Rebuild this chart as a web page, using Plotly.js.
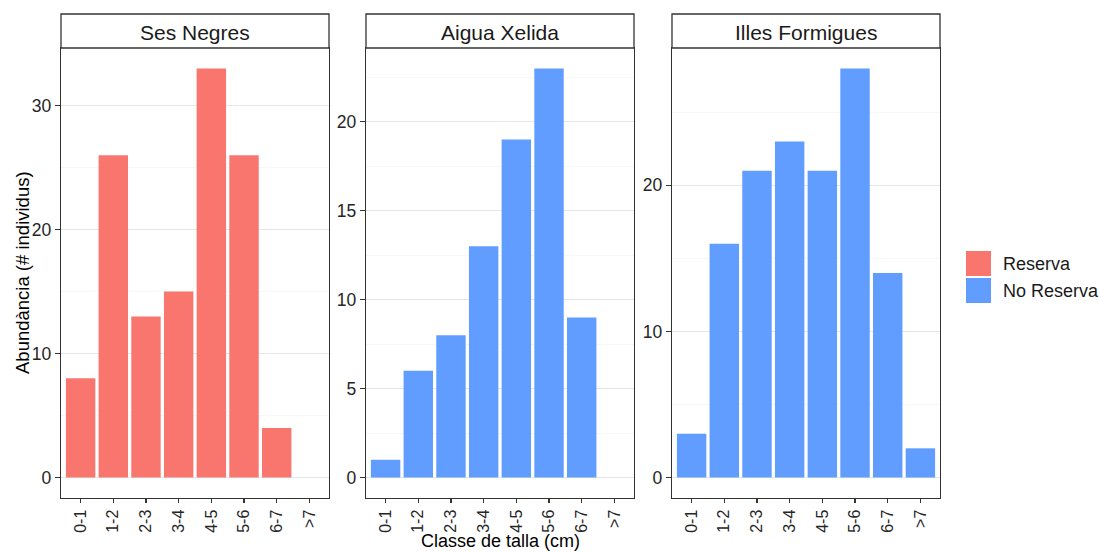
<!DOCTYPE html>
<html>
<head>
<meta charset="utf-8">
<script src="https://cdn.plot.ly/plotly-3.0.1.min.js"></script>
<style>html,body{margin:0;padding:0;background:#fff;}#chart{width:1099px;height:552px;}</style>
</head>
<body>
<div id="chart"></div>
<script>
// ---- data ----
const categories = ['0-1', '1-2', '2-3', '3-4', '4-5', '5-6', '6-7', '>7'];
const sites = ['Ses Negres', 'Aigua Xelida', 'Illes Formigues'];
const sesNegres = [8, 26, 13, 15, 33, 26, 4, 0];
const aiguaXelida = [1, 6, 8, 13, 19, 23, 9, 0];
const illesFormigues = [3, 16, 21, 23, 21, 28, 14, 2];
const groups = ['Reserva', 'No Reserva'];
const siteGroup = ['Reserva', 'No Reserva', 'No Reserva'];
const yTickStep = [10, 5, 10];
const xTitle = 'Classe de talla (cm)';
const yTitle = 'Abundància (# individus)';

// ---- style ----
const W = 1099, H = 552;
const groupColors = {'Reserva': '#F8766D', 'No Reserva': '#619CFF'};
const FONT = '"Liberation Sans", Arial, sans-serif';
const panelsPx = [[61, 329], [366, 634], [672, 940]];
const panelTop = 48, panelBottom = 498, stripTop = 14;
const values = [sesNegres, aiguaXelida, illesFormigues];

const fx = px => px / W;
const fy = py => (H - py) / H;

const data = [];
const layout = {
  width: W, height: H,
  margin: {l: 0, r: 0, t: 0, b: 0},
  paper_bgcolor: '#ffffff',
  plot_bgcolor: '#ffffff',
  showlegend: false,
  font: {family: FONT, color: '#000'},
  shapes: [],
  annotations: []
};

values.forEach((vals, i) => {
  const n = i + 1;
  const xa = 'x' + (n === 1 ? '' : n), ya = 'y' + (n === 1 ? '' : n);
  data.push({
    type: 'bar',
    x: categories,
    y: vals,
    xaxis: xa, yaxis: ya,
    width: 0.9,
    name: siteGroup[i],
    marker: {color: groupColors[siteGroup[i]], line: {width: 0}},
    hoverinfo: 'skip'
  });
  const maxV = Math.max(...vals);
  const exp = maxV * 0.05;
  const step = yTickStep[i];
  layout['xaxis' + (n === 1 ? '' : n)] = {
    domain: [fx(panelsPx[i][0]), fx(panelsPx[i][1])],
    anchor: ya,
    type: 'category',
    categoryorder: 'array',
    categoryarray: categories,
    range: [-0.6, categories.length - 0.4],
    showgrid: false,
    zeroline: false,
    showline: true, mirror: true, linecolor: '#333333', linewidth: 1.3,
    ticks: 'outside', ticklen: 4, tickwidth: 1.2, tickcolor: '#333333',
    tickangle: -90,
    tickfont: {family: FONT, size: 16, color: '#262626'},
    fixedrange: true
  };
  layout['yaxis' + (n === 1 ? '' : n)] = {
    domain: [fy(panelBottom), fy(panelTop)],
    anchor: xa,
    range: [-exp, maxV + exp],
    tick0: 0, dtick: step,
    showgrid: true, gridcolor: '#e6e6e6', gridwidth: 1.1,
    minor: {tick0: 0, dtick: step / 2, showgrid: true, gridcolor: '#f2f2f2', gridwidth: 0.6, ticks: ''},
    zeroline: false,
    showline: true, mirror: true, linecolor: '#333333', linewidth: 1.3,
    ticks: 'outside', ticklen: 5, tickwidth: 1.2, tickcolor: '#333333',
    tickfont: {family: FONT, size: 17.5, color: '#262626'},
    fixedrange: true
  };
  // facet strip
  layout.shapes.push({
    type: 'rect', xref: 'paper', yref: 'paper',
    x0: fx(panelsPx[i][0]), x1: fx(panelsPx[i][1]),
    y0: fy(panelTop), y1: fy(stripTop),
    fillcolor: '#ffffff', line: {color: '#333333', width: 1.3}
  });
  layout.annotations.push({
    xref: 'paper', yref: 'paper',
    x: fx((panelsPx[i][0] + panelsPx[i][1]) / 2), y: fy((panelTop + stripTop) / 2 + 1),
    xanchor: 'center', yanchor: 'middle',
    text: sites[i], showarrow: false,
    font: {family: FONT, size: 21, color: '#1a1a1a'}
  });
});

// axis titles
layout.annotations.push({
  xref: 'paper', yref: 'paper', x: fx(500), y: fy(552),
  xanchor: 'center', yanchor: 'bottom', showarrow: false,
  borderpad: 0,
  text: xTitle, font: {family: FONT, size: 18, color: '#000'}
});
layout.annotations.push({
  xref: 'paper', yref: 'paper', x: fx(22), y: fy(273),
  xanchor: 'center', yanchor: 'middle', showarrow: false, textangle: -90,
  text: yTitle, font: {family: FONT, size: 18.5, color: '#000'}
});

// legend (manual, ggplot-style keys)
const keyX0 = 966, keyX1 = 991, keyTop = 251, keyH = 25, keyGap = 2;
groups.forEach((g, k) => {
  const y0 = keyTop + k * (keyH + keyGap);
  layout.shapes.push({
    type: 'rect', xref: 'paper', yref: 'paper',
    x0: fx(keyX0), x1: fx(keyX1), y0: fy(y0 + keyH), y1: fy(y0),
    fillcolor: groupColors[g], line: {width: 0}
  });
  layout.annotations.push({
    xref: 'paper', yref: 'paper', x: fx(1001), y: fy(y0 + keyH / 2),
    xanchor: 'left', yanchor: 'middle', showarrow: false,
    text: g, font: {family: FONT, size: 18, color: '#1a1a1a'}
  });
});

Plotly.newPlot('chart', data, layout, {staticPlot: true, displayModeBar: false});
</script>
</body>
</html>
